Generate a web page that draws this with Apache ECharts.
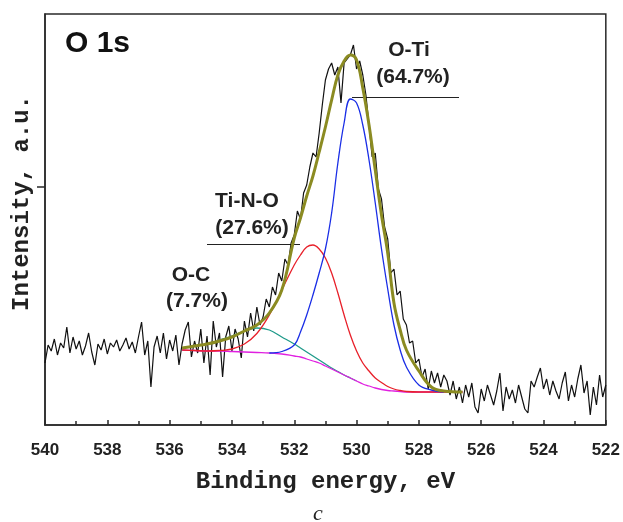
<!DOCTYPE html>
<html>
<head>
<meta charset="utf-8">
<script src="https://cdn.jsdelivr.net/npm/echarts@6/dist/echarts.min.js"></script>
<style>html,body{margin:0;padding:0;background:#fff}#c{width:623px;height:522px}</style>
</head>
<body>
<div id="c"></div>
<script>
// Raw spectrum: binding energy grid start/step and intensities (a.u.)
const rawStart = 540.0;
const rawStep = 0.1;
const rawIntensity = [
 62,80,74,86,70,82,77,98,72,88,76,
 84,70,79,92,73,60,81,75,86,71,
 82,78,85,74,80,87,76,83,72,88,
 103,70,84,38,78,89,72,92,66,85,
 74,90,60,81,95,103,68,84,72,96,
 62,89,50,104,78,92,48,88,99,74,
 96,86,67,104,88,112,94,118,100,108,
 126,118,138,130,152,144,166,160,182,190,
 214,206,232,240,258,272,268,292,320,345,
 356,362,350,358,322,362,366,370,380,356,
 364,350,330,300,268,272,236,226,198,186,
 152,156,130,134,106,100,82,84,62,66,
 48,56,36,54,42,52,38,50,44,30,
 44,26,38,22,40,28,42,18,12,36,
 24,40,30,20,34,52,14,38,26,35,
 22,40,28,16,12,44,38,48,57,36,
 46,30,44,34,26,42,53,24,40,28,
 46,60,32,44,10,38,20,50,28,40
];

// Fit components on a shared energy grid
const fitEnergy = [535.6,535.2,534.8,534.4,534.0,533.6,533.2,532.8,532.4,532.0,531.8,531.6,531.4,531.2,531.0,530.8,530.6,530.4,530.2,530.0,529.8,529.6,529.4,529.2,529.0,528.8,528.6,528.4,528.0,527.6,527.2,526.6];
const background = [75,74.5,74,74,73.5,73,72.5,72,71,69,68,66,64,62,59,56,53,50,47,44,41,39,37,35.5,34.5,34,33.5,33,33,33,33,33];
const peakOC     = [77,79,81,85,89,94,97,95,88,81,77,73,69,65,61,57,53.5,50,47,44,null,null,null,null,null,null,null,null,null,null,null,null];
const peakTiNO   = [75,74.5,74,74.5,76,81,91.5,110,135,160,170,178,180,176,167,152,132,110,90,74,62,54,47,42.5,38.5,36,34.5,33.5,33,33,33,33];
const peakOTi    = [null,null,null,null,null,null,null,72,73.5,80,93,110,130,152,176,212,262,302,326,322,300,265,222,176,136,100,75,58,40,35,33,null];
const envelope   = [77,79,81,84,88,94,100,112,135,187,207,229,249,273,298,325,350,364,370,365,337,300,255,210,172,122,95,75,54,38,34,33];

const xTickInterval = 2;
const yTickValue = 238;

function pairs(xs, ys){ return xs.map((x,i)=>[x, ys[i]]); }
const rawData = rawIntensity.map((v,i)=>[+(rawStart - i*rawStep).toFixed(2), v]);

const chart = echarts.init(document.getElementById('c'), null, {renderer:'canvas'});
const lbl = {fontFamily:'Liberation Sans, Arial, sans-serif', fontWeight:'bold', fontSize:21, fill:'#222'};
const mono = {fontFamily:'Liberation Mono, Courier New, monospace', fontWeight:'bold', fontSize:24, fill:'#222'};
chart.setOption({
  animation:false,
  backgroundColor:'#fff',
  grid:{left:45, right:16, top:14, bottom:97, show:true, borderColor:'#2a2a2a', borderWidth:1.5, backgroundColor:'transparent'},
  xAxis:{
    type:'value', min:522, max:540, interval:xTickInterval, inverse:true,
    axisLine:{show:true, onZero:false, lineStyle:{color:'#2a2a2a', width:1.5}},
    axisTick:{show:true, inside:true, length:5, lineStyle:{color:'#2a2a2a', width:1.5}},
    minorTick:{show:true, splitNumber:2, length:4, lineStyle:{color:'#2a2a2a', width:1.5}},
    splitLine:{show:false},
    axisLabel:{margin:17, color:'#222', fontFamily:'Liberation Sans, Arial, sans-serif', fontWeight:'bold', fontSize:17},
    name:'Binding energy, eV', nameLocation:'middle', nameGap:45,
    nameTextStyle:{fontFamily:'Liberation Mono, Courier New, monospace', fontWeight:'bold', fontSize:24, color:'#222'}
  },
  yAxis:{
    type:'value', min:0, max:411,
    axisLine:{show:true, onZero:false, lineStyle:{color:'#2a2a2a', width:1.5}},
    axisTick:{show:true, inside:false, length:8, customValues:[yTickValue], lineStyle:{color:'#2a2a2a', width:1.5}},
    axisLabel:{show:false},
    splitLine:{show:false}
  },
  series:[
    {type:'line', data:rawData, showSymbol:false, lineStyle:{color:'#111', width:1.2}, z:1},
    {type:'line', data:pairs(fitEnergy, background), showSymbol:false, smooth:0.4, lineStyle:{color:'#e020e0', width:1.3}, z:3},
    {type:'line', data:pairs(fitEnergy, peakOC), showSymbol:false, smooth:0.4, lineStyle:{color:'#1f9a8a', width:1.3}, z:2},
    {type:'line', data:pairs(fitEnergy, peakTiNO), showSymbol:false, smooth:0.4, lineStyle:{color:'#e8202a', width:1.3}, z:4},
    {type:'line', data:pairs(fitEnergy, peakOTi), showSymbol:false, smooth:0.4, lineStyle:{color:'#1a2ee6', width:1.3}, z:4},
    {type:'line', data:pairs(fitEnergy, envelope), showSymbol:false, smooth:0.4, lineStyle:{color:'#8b8b22', width:3}, z:5}
  ],
  graphic:[
    {type:'text', x:22, y:203, rotation:Math.PI/2, style:Object.assign({text:'Intensity, a.u.', textAlign:'center', textVerticalAlign:'middle'}, mono)},
    {type:'text', left:65, top:29, style:{text:'O 1s', fontFamily:'Liberation Sans, Arial, sans-serif', fontWeight:'bold', fontSize:30, fill:'#111'}},
    {type:'text', x:409, y:50, style:Object.assign({text:'O-Ti', textAlign:'center', textVerticalAlign:'middle'}, lbl)},
    {type:'text', x:413, y:77, style:Object.assign({text:'(64.7%)', textAlign:'center', textVerticalAlign:'middle'}, lbl)},
    {type:'line', shape:{x1:352, y1:97.5, x2:459, y2:97.5}, style:{stroke:'#222', lineWidth:1}},
    {type:'text', x:247, y:201, style:Object.assign({text:'Ti-N-O', textAlign:'center', textVerticalAlign:'middle'}, lbl)},
    {type:'text', x:252, y:228, style:Object.assign({text:'(27.6%)', textAlign:'center', textVerticalAlign:'middle'}, lbl)},
    {type:'line', shape:{x1:207, y1:244.5, x2:300, y2:244.5}, style:{stroke:'#222', lineWidth:1}},
    {type:'text', x:191, y:275, style:Object.assign({text:'O-C', textAlign:'center', textVerticalAlign:'middle'}, lbl)},
    {type:'text', x:197, y:301, style:Object.assign({text:'(7.7%)', textAlign:'center', textVerticalAlign:'middle'}, lbl)},
    {type:'text', x:318, y:514, style:{text:'c', textAlign:'center', textVerticalAlign:'middle', fontFamily:'Liberation Serif, Times New Roman, serif', fontStyle:'italic', fontSize:22, fill:'#222'}}
  ]
});
</script>
</body>
</html>
